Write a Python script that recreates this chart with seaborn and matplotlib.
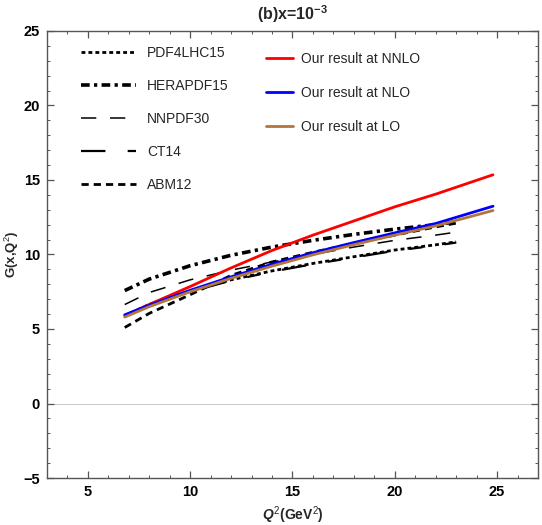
import numpy as np
import pandas as pd
import seaborn as sns
import matplotlib.pyplot as plt

sns.set_style("ticks")
plt.rcParams['font.family'] = ['Liberation Sans', 'DejaVu Sans']
plt.rcParams['mathtext.fontset'] = 'custom'
plt.rcParams['mathtext.rm'] = 'Liberation Sans'
plt.rcParams['mathtext.it'] = 'Liberation Sans:italic:bold'
plt.rcParams['mathtext.bf'] = 'Liberation Sans:bold'

# our results (Q^2 in GeV^2)
q2_ours = [6.8, 8, 10, 12, 14, 16, 18, 20, 22, 24.8]
g_nnlo = [5.9, 6.65, 7.85, 9.1, 10.27, 11.3, 12.25, 13.2, 14.05, 15.35]
g_nlo = [5.95, 6.6, 7.6, 8.5, 9.35, 10.12, 10.8, 11.45, 12.08, 13.24]
g_lo = [5.8, 6.5, 7.5, 8.4, 9.22, 9.98, 10.66, 11.3, 11.92, 12.95]

# global fits
q2_pdf = [6.8, 8, 10, 12, 14, 16, 18, 20, 22, 23]
g_pdf4lhc = [5.9, 6.65, 7.55, 8.3, 8.9, 9.4, 9.85, 10.3, 10.65, 10.85]
g_hera = [7.58, 8.35, 9.25, 9.95, 10.5, 10.95, 11.35, 11.7, 12.0, 12.2]
g_nnpdf = [6.64, 7.45, 8.3, 8.95, 9.5, 10.0, 10.5, 10.95, 11.3, 11.5]
g_ct14 = [5.85, 6.6, 7.5, 8.25, 8.85, 9.35, 9.8, 10.25, 10.6, 10.8]
g_abm = [5.1, 6.05, 7.3, 8.6, 9.5, 10.15, 10.75, 11.3, 11.85, 12.1]

fig = plt.figure(figsize=(5.42, 5.25), dpi=100)
ax = fig.add_axes([0.0867, 0.0895, 0.9059, 0.8515])

ax.axhline(0, color='#cccccc', lw=0.8, zorder=0)

pdf_styles = [
    ('PDF4LHC15', g_pdf4lhc, dict(lw=2.0, dashes=(1.4, 1.1))),
    ('HERAPDF15', g_hera, dict(lw=2.6, dashes=(2.4, 1.2, 0.9, 1.2))),
    ('NNPDF30', g_nnpdf, dict(lw=1.1, dashes=(10, 9))),
    ('CT14', g_ct14, dict(lw=1.6, dashes=(11, 10, 6, 10))),
    ('ABM12', g_abm, dict(lw=2.0, dashes=(2.6, 1.8))),
]
for name, vals, st in pdf_styles:
    df = pd.DataFrame({'Q2': q2_pdf, 'G': vals})
    sns.lineplot(data=df, x='Q2', y='G', color='black', label=name, ax=ax, **st)

our_styles = [
    ('Our result at NNLO', g_nnlo, '#ff0000'),
    ('Our result at NLO', g_nlo, '#0000ff'),
    ('Our result at LO', g_lo, '#b0763e'),
]
for name, vals, c in our_styles:
    df = pd.DataFrame({'Q2': q2_ours, 'G': vals})
    sns.lineplot(data=df, x='Q2', y='G', color=c, lw=2.0, label=name, ax=ax)

handles, labels = ax.get_legend_handles_labels()
leg1 = ax.legend(handles[:5], labels[:5], loc='upper left', bbox_to_anchor=(0.043, 0.994),
                 frameon=False, fontsize=10, handlelength=4.0, handletextpad=0.8,
                 labelspacing=1.37)
ax.add_artist(leg1)
ax.legend(handles[5:], labels[5:], loc='upper left', bbox_to_anchor=(0.42, 0.982),
          frameon=False, fontsize=10, handlelength=2.0, handletextpad=0.55,
          labelspacing=1.45)

ax.set_xlim(3, 27)
ax.set_ylim(-5, 25)
ax.set_xticks([5, 10, 15, 20, 25])
ax.set_yticks([-5, 0, 5, 10, 15, 20, 25])
ax.set_xticks(np.arange(3, 28, 1), minor=True)
ax.set_yticks(np.arange(-5, 26, 1), minor=True)
ax.tick_params(which='both', direction='in', top=True, right=True, color='#555555',
               labelcolor='black')
ax.tick_params(which='major', length=5, width=0.9, labelsize=10.5, pad=5)
ax.tick_params(which='minor', length=2.5, width=0.7)
for lab in ax.get_xticklabels() + ax.get_yticklabels():
    lab.set_fontweight('bold')
for sp in ax.spines.values():
    sp.set_color('#555555')
    sp.set_linewidth(1.0)

ax.set_xlabel(r'$Q^2$(GeV$^2$)', fontsize=10, fontweight='bold')
ax.xaxis.set_label_coords(0.5, -0.06)
ax.set_ylabel(r'G(x,Q$^2$)', fontsize=9.5, fontweight='bold')
ax.yaxis.set_label_coords(-0.052, 0.5)
ax.set_title(r'(b)x=10$^{\mathbf{-3}}$', fontsize=11.5, fontweight='bold', pad=8)

fig.savefig('out.png', dpi=100)
